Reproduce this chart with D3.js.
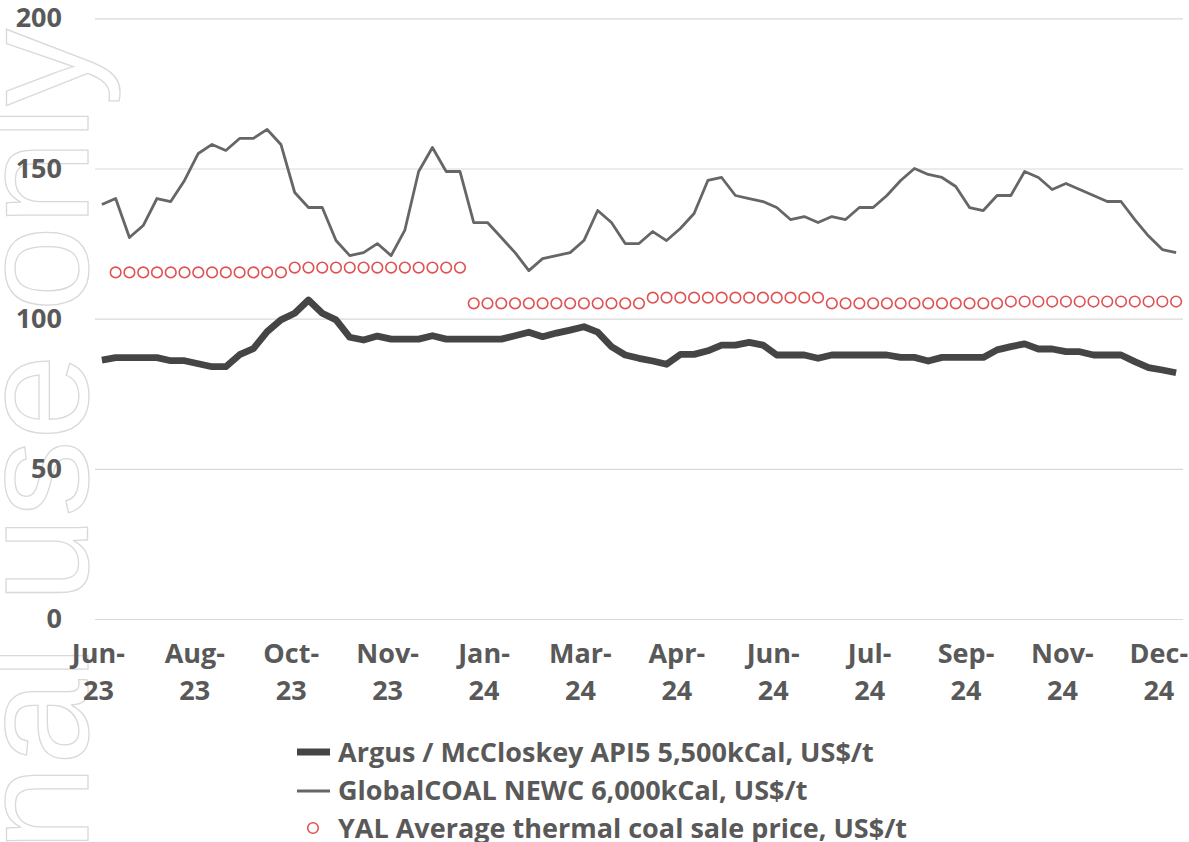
<!DOCTYPE html>
<html>
<head>
<meta charset="utf-8">
<style>
  body { margin: 0; background: #fff; }
  svg { display: block; }
  text { font-family: "Open Sans", "Noto Sans", sans-serif; font-weight: 700; fill: #595959; }
</style>
<script src="https://d3js.org/d3.v7.min.js"></script>
</head>
<body>
<div id="chart"></div>
<script>
var w = 1189,
    h = 842;

// weekly categories, one label every 7 weeks
var tickIndex = [0, 7, 14, 21, 28, 35, 42, 49, 56, 63, 70, 77];
var tickLabels = ["Jun-23", "Aug-23", "Oct-23", "Nov-23", "Jan-24", "Mar-24",
                  "Apr-24", "Jun-24", "Jul-24", "Sep-24", "Nov-24", "Dec-24"];

var newc = [138, 140, 127, 131, 140, 139, 146, 155, 158, 156,
            160, 160, 163, 158, 142, 137, 137, 126, 121, 122,
            125, 121, 129.5, 149, 157, 149, 149, 132, 132, 127,
            122, 116, 120, 121, 122, 126, 136, 132, 125, 125,
            129, 126, 130, 135, 146, 147, 141, 140, 139, 137,
            133, 134, 132, 134, 133, 137, 137, 141, 146, 150,
            148, 147, 144, 137, 136, 141, 141, 149, 147, 143,
            145, 143, 141, 139, 139, 133, 127.5, 123, 122];

var api5 = [86.2, 87, 87, 87, 87, 86, 86, 85, 84, 84,
            88, 90, 95.7, 99.6, 101.8, 106.2, 101.8, 99.6, 93.8, 92.9,
            94.2, 93.2, 93.2, 93.2, 94.3, 93.2, 93.2, 93.2, 93.2, 93.2,
            94.3, 95.5, 94, 95.2, 96.2, 97.3, 95.5, 90.7, 87.9, 86.8,
            85.9, 84.8, 88.1, 88.1, 89.3, 91.2, 91.2, 92.1, 91.2, 87.9,
            87.9, 87.9, 86.8, 87.9, 87.9, 87.9, 87.9, 87.9, 87.1, 87.1,
            85.9, 87.1, 87.1, 87.1, 87.1, 89.6, 90.7, 91.6, 89.9, 89.9,
            89, 89, 87.9, 87.9, 87.9, 85.7, 83.7, 82.9, 82];

var yal = [null, 115.4, 115.4, 115.4, 115.4, 115.4, 115.4, 115.4, 115.4, 115.4,
           115.4, 115.4, 115.4, 115.4, 117, 117, 117, 117, 117, 117,
           117, 117, 117, 117, 117, 117, 117, 105.1, 105.1, 105.1,
           105.1, 105.1, 105.1, 105.1, 105.1, 105.1, 105.1, 105.1, 105.1, 105.1,
           107, 107, 107, 107, 107, 107, 107, 107, 107, 107,
           107, 107, 107, 105.1, 105.1, 105.1, 105.1, 105.1, 105.1, 105.1,
           105.1, 105.1, 105.1, 105.1, 105.1, 105.1, 105.7, 105.7, 105.7, 105.7,
           105.7, 105.7, 105.7, 105.7, 105.7, 105.7, 105.7, 105.7, 105.7];

var yTicks = [0, 50, 100, 150, 200];

var seriesNames = ["Argus / McCloskey API5 5,500kCal, US$/t",
                   "GlobalCOAL NEWC 6,000kCal, US$/t",
                   "YAL Average thermal coal sale price, US$/t"];

var svg = d3.select("#chart")
        .append("svg")
        .attr("width", w)
        .attr("height", h);

svg.append("rect").attr("width", w).attr("height", h).attr("fill", "#fff");

// watermark
svg.append("text")
   .attr("transform", "translate(88,29) rotate(-90)")
   .attr("text-anchor", "end")
   .style("font-family", "'Liberation Sans', Arial, sans-serif")
   .style("font-weight", "normal")
   .style("font-size", "154px")
   .style("fill", "none")
   .style("stroke", "#d9d9d9")
   .style("stroke-width", 1.3)
   .text("For personal use only");

var x = d3.scalePoint()
          .domain(d3.range(newc.length))
          .range([95, 1183])
          .padding(0.5);

var y = d3.scaleLinear()
          .domain([0, 200])
          .range([619, 18.3]);

// y axis + gridlines
var yAxis = svg.append("g")
   .attr("transform", "translate(95,0)")
   .call(d3.axisLeft(y).tickValues(yTicks).tickSizeInner(-1088).tickSizeOuter(0).tickPadding(33));
yAxis.select(".domain").remove();
yAxis.selectAll("line").attr("stroke", "#d9d9d9").attr("stroke-width", 1.2);
yAxis.selectAll("text")
   .attr("font-family", null).attr("fill", null)
   .style("font-size", "27px");

// x axis labels (two lines)
var xAxis = svg.append("g")
   .attr("transform", "translate(0,619)")
   .call(d3.axisBottom(x).tickValues(tickIndex).tickSize(0)
         .tickFormat(function(d, i) { return tickLabels[i]; }));
xAxis.select(".domain").remove();
xAxis.selectAll("text")
   .attr("font-family", null).attr("fill", null)
   .style("font-size", "27px")
   .each(function() {
     var t = d3.select(this), s = t.text(), parts = s.split("-");
     t.text(null).attr("y", 0).attr("dy", null);
     t.append("tspan").attr("x", -4).attr("y", 44).text(parts[0] + "-");
     t.append("tspan").attr("x", -4).attr("y", 81).text(parts[1]);
   });

// lines
var line = d3.line()
   .x(function(d, i) { return x(i); })
   .y(function(d) { return y(d); });

svg.append("path")
   .datum(newc)
   .attr("d", line)
   .attr("fill", "none")
   .attr("stroke", "#666666")
   .attr("stroke-width", 2.8)
   .attr("stroke-linejoin", "round");

svg.append("path")
   .datum(api5)
   .attr("d", line)
   .attr("fill", "none")
   .attr("stroke", "#454545")
   .attr("stroke-width", 6.8)
   .attr("stroke-linejoin", "round");

svg.selectAll(".yal")
   .data(yal.map(function(v, i) { return {i: i, v: v}; }).filter(function(d) { return d.v != null; }))
   .enter().append("circle")
   .attr("class", "yal")
   .attr("cx", function(d) { return x(d.i); })
   .attr("cy", function(d) { return y(d.v); })
   .attr("r", 5.3)
   .attr("fill", "#fff")
   .attr("stroke", "#e05252")
   .attr("stroke-width", 1.6);

// legend
var lg = svg.append("g").attr("transform", "translate(297,0)");
var rows = [762, 800, 838];

lg.append("line").attr("x1", 0).attr("x2", 33).attr("y1", rows[0] - 10).attr("y2", rows[0] - 10)
  .attr("stroke", "#454545").attr("stroke-width", 6.8);
lg.append("line").attr("x1", 0).attr("x2", 33).attr("y1", rows[1] - 9).attr("y2", rows[1] - 9)
  .attr("stroke", "#666666").attr("stroke-width", 2.8);
lg.append("circle").attr("cx", 16).attr("cy", rows[2] - 10).attr("r", 5.3)
  .attr("fill", "#fff").attr("stroke", "#e05252").attr("stroke-width", 1.6);

lg.selectAll(".lt")
  .data(seriesNames)
  .enter().append("text")
  .attr("class", "lt")
  .attr("x", 41)
  .attr("y", function(d, i) { return rows[i]; })
  .style("font-size", "27px")
  .text(function(d) { return d; });
</script>
</body>
</html>
